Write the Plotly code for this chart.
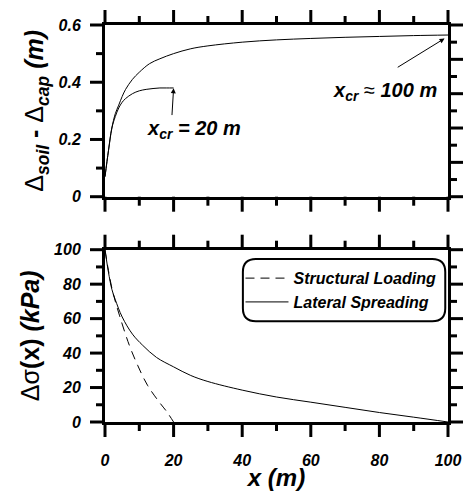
import plotly.graph_objects as go

# ---- Data ----
x_lat_top = [0, 1, 2, 3, 4, 5, 6, 8, 10, 13, 16, 20, 25, 30, 40, 50, 60, 70, 80, 90, 100]
y_lat_top = [0.07, 0.16, 0.24, 0.29, 0.32, 0.35, 0.375, 0.41, 0.435, 0.465, 0.482, 0.50,
             0.517, 0.527, 0.540, 0.548, 0.553, 0.557, 0.560, 0.563, 0.565]
x_str_top = [0, 1, 2, 3, 4, 5, 6, 8, 10, 12, 14, 16, 18, 20]
y_str_top = [0.07, 0.16, 0.24, 0.28, 0.31, 0.33, 0.343, 0.36, 0.37, 0.375, 0.378, 0.38, 0.38, 0.38]

x_lat = [0, 1, 2, 3, 5, 8, 11, 15, 20, 25, 30, 40, 50, 60, 70, 80, 90, 100]
y_lat = [100, 87, 77, 71, 61, 51, 44.5, 37.5, 32, 27, 23.5, 18.5, 14.5, 11.5, 8.5, 5.5, 2.8, 0]
x_str = [0, 1, 2.2, 4.2, 7.1, 9.5, 12.4, 15.8, 18, 20]
y_str = [100, 88, 76, 62, 44.5, 33, 21.3, 11.6, 6, 0]

# tick values
x_major = [0, 20, 40, 60, 80, 100]
x_minor = [10, 30, 50, 70, 90]
ytop_major = [0, 0.2, 0.4, 0.6]
ytop_minor = [0.1, 0.3, 0.5]
ytop_right_major = [0, 0.12, 0.24, 0.36, 0.48, 0.6]
ytop_right_minor = [0.06, 0.18, 0.30, 0.42, 0.54]
ybot_major = [0, 20, 40, 60, 80, 100]
ybot_minor = [10, 30, 50, 70, 90]
legend_names = ["Structural Loading", "Lateral Spreading"]

X_RANGE = [0, 100]
YTOP_RANGE = [0, 0.6]
YBOT_RANGE = [0, 100]

FONT = "Liberation Sans, Arial, sans-serif"
tickfont = dict(family=FONT, size=16, color="black", weight="bold", style="italic")

fig = go.Figure()
fig.add_trace(go.Scatter(x=x_lat_top, y=y_lat_top, mode="lines", line=dict(color="black", width=1, shape="spline"),
                         showlegend=False, xaxis="x", yaxis="y"))
fig.add_trace(go.Scatter(x=x_str_top, y=y_str_top, mode="lines", line=dict(color="black", width=1, shape="spline"),
                         showlegend=False, xaxis="x", yaxis="y"))
fig.add_trace(go.Scatter(x=x_str, y=y_str, mode="lines", name=legend_names[0],
                         line=dict(color="black", width=1, dash="9px,6px", shape="spline"),
                         xaxis="x2", yaxis="y2"))
fig.add_trace(go.Scatter(x=x_lat, y=y_lat, mode="lines", name=legend_names[1],
                         line=dict(color="black", width=1, shape="spline"),
                         xaxis="x2", yaxis="y2"))

# plotly's own ticks keep the label spacing; the visible tick marks are drawn below
axis_common = dict(showline=True, linecolor="black", linewidth=3, ticks="outside", ticklen=12,
                   tickwidth=2, tickcolor="rgba(0,0,0,0)", showgrid=False, zeroline=False,
                   tickfont=tickfont)

top_dom = [0.5675, 1.0]
bot_dom = [0.0, 0.434]
title_font = dict(family=FONT, size=25, color="black")

fig.update_layout(
    width=465, height=491,
    margin=dict(l=105, r=17, t=25, b=69, autoexpand=False),
    plot_bgcolor="white", paper_bgcolor="white",
    xaxis=dict(axis_common, domain=[0, 1], anchor="y", range=X_RANGE, tickvals=x_major,
               showticklabels=False, mirror=True),
    yaxis=dict(axis_common, domain=top_dom, anchor="x", range=YTOP_RANGE, tickvals=ytop_major,
               tickformat=".1~f", mirror=True, ticklabelstandoff=6,
               title=dict(text="Δ<sub><b><i>soil</i></b></sub><b> - </b>Δ<sub><b><i>cap</i></b></sub><b><i> (m)</i></b>",
                          font=title_font, standoff=8)),
    xaxis2=dict(axis_common, domain=[0, 1], anchor="y2", range=X_RANGE, tickvals=x_major,
                mirror=True, ticklabelstandoff=10,
                title=dict(text="<b><i>x (m)</i></b>", font=dict(family=FONT, size=24, color="black"), standoff=6)),
    yaxis2=dict(axis_common, domain=bot_dom, anchor="x2", range=YBOT_RANGE, tickvals=ybot_major,
                mirror=True, ticklabelstandoff=6,
                title=dict(text="Δσ<b>(x) </b><b><i>(kPa)</i></b>", font=title_font, standoff=8)),
    legend=dict(x=0.395, y=0.405, xanchor="left", yanchor="top", bgcolor="rgba(0,0,0,0)", borderwidth=0,
                font=dict(family=FONT, size=16, color="black", weight="bold", style="italic"),
                tracegroupgap=0, itemwidth=43),
    showlegend=True,
)

# ---- tick marks (outside, on all four sides of both panels) ----
MAJ, MIN = 15, 9
tick_line = dict(color="black", width=3)


def frac(v, rng, dom):
    return dom[0] + (v - rng[0]) / (rng[1] - rng[0]) * (dom[1] - dom[0])


def x_ticks(vals, length, dom_y):
    for v in vals:
        xp = frac(v, X_RANGE, [0, 1])
        for anchor, sign in ((dom_y[0], -1), (dom_y[1], 1)):
            fig.add_shape(type="line", xref="paper", yref="paper", x0=xp, x1=xp,
                          ysizemode="pixel", yanchor=anchor, y0=0, y1=sign * length, line=tick_line)


def y_ticks(vals, rng, dom, length, sides):
    for v in vals:
        yp = frac(v, rng, dom)
        for anchor, sign in sides:
            fig.add_shape(type="line", xref="paper", yref="paper", y0=yp, y1=yp,
                          xsizemode="pixel", xanchor=anchor, x0=0, x1=sign * length, line=tick_line)


x_ticks(x_major, MAJ, top_dom)
x_ticks(x_minor, MIN, top_dom)
x_ticks(x_major, MAJ, bot_dom)
x_ticks(x_minor, MIN, bot_dom)
y_ticks(ytop_major, YTOP_RANGE, top_dom, MAJ, [(0, -1)])
y_ticks(ytop_minor, YTOP_RANGE, top_dom, MIN, [(0, -1)])
y_ticks(ytop_right_major, YTOP_RANGE, top_dom, MAJ, [(1, 1)])
y_ticks(ytop_right_minor, YTOP_RANGE, top_dom, MIN, [(1, 1)])
y_ticks(ybot_major, YBOT_RANGE, bot_dom, MAJ, [(0, -1), (1, 1)])
y_ticks(ybot_minor, YBOT_RANGE, bot_dom, MIN, [(0, -1), (1, 1)])

# rounded legend box
x0, x1, y0, y1 = 0.402, 0.992, 0.254, 0.4106
rx, ry = 13 / 343, 13 / 397
path = (f"M {x0+rx},{y1} L {x1-rx},{y1} Q {x1},{y1} {x1},{y1-ry} L {x1},{y0+ry} Q {x1},{y0} {x1-rx},{y0} "
        f"L {x0+rx},{y0} Q {x0},{y0} {x0},{y0+ry} L {x0},{y1-ry} Q {x0},{y1} {x0+rx},{y1} Z")
fig.add_shape(type="path", path=path, xref="paper", yref="paper", line=dict(color="black", width=2),
              fillcolor="rgba(0,0,0,0)")

ann_font = dict(family=FONT, size=20, color="black")
fig.add_annotation(x=20, y=0.379, ax=19.5, ay=0.28, xref="x", yref="y", axref="x", ayref="y",
                   showarrow=True, arrowhead=2, arrowsize=1, arrowwidth=1, arrowcolor="black", text="")
fig.add_annotation(x=26, y=0.236, xref="x", yref="y", showarrow=False,
                   text="<b><i>x<sub>cr</sub> = 20 m</i></b>", font=ann_font)
fig.add_annotation(x=99, y=0.553, ax=84.9, ay=0.449, xref="x", yref="y", axref="x", ayref="y",
                   showarrow=True, arrowhead=2, arrowsize=1, arrowwidth=1, arrowcolor="black", text="")
fig.add_annotation(x=81.5, y=0.366, xref="x", yref="y", showarrow=False,
                   text="<b><i>x<sub>cr</sub></i></b> ≈ <b><i>100 m</i></b>", font=ann_font)

fig.write_html("out.html")
